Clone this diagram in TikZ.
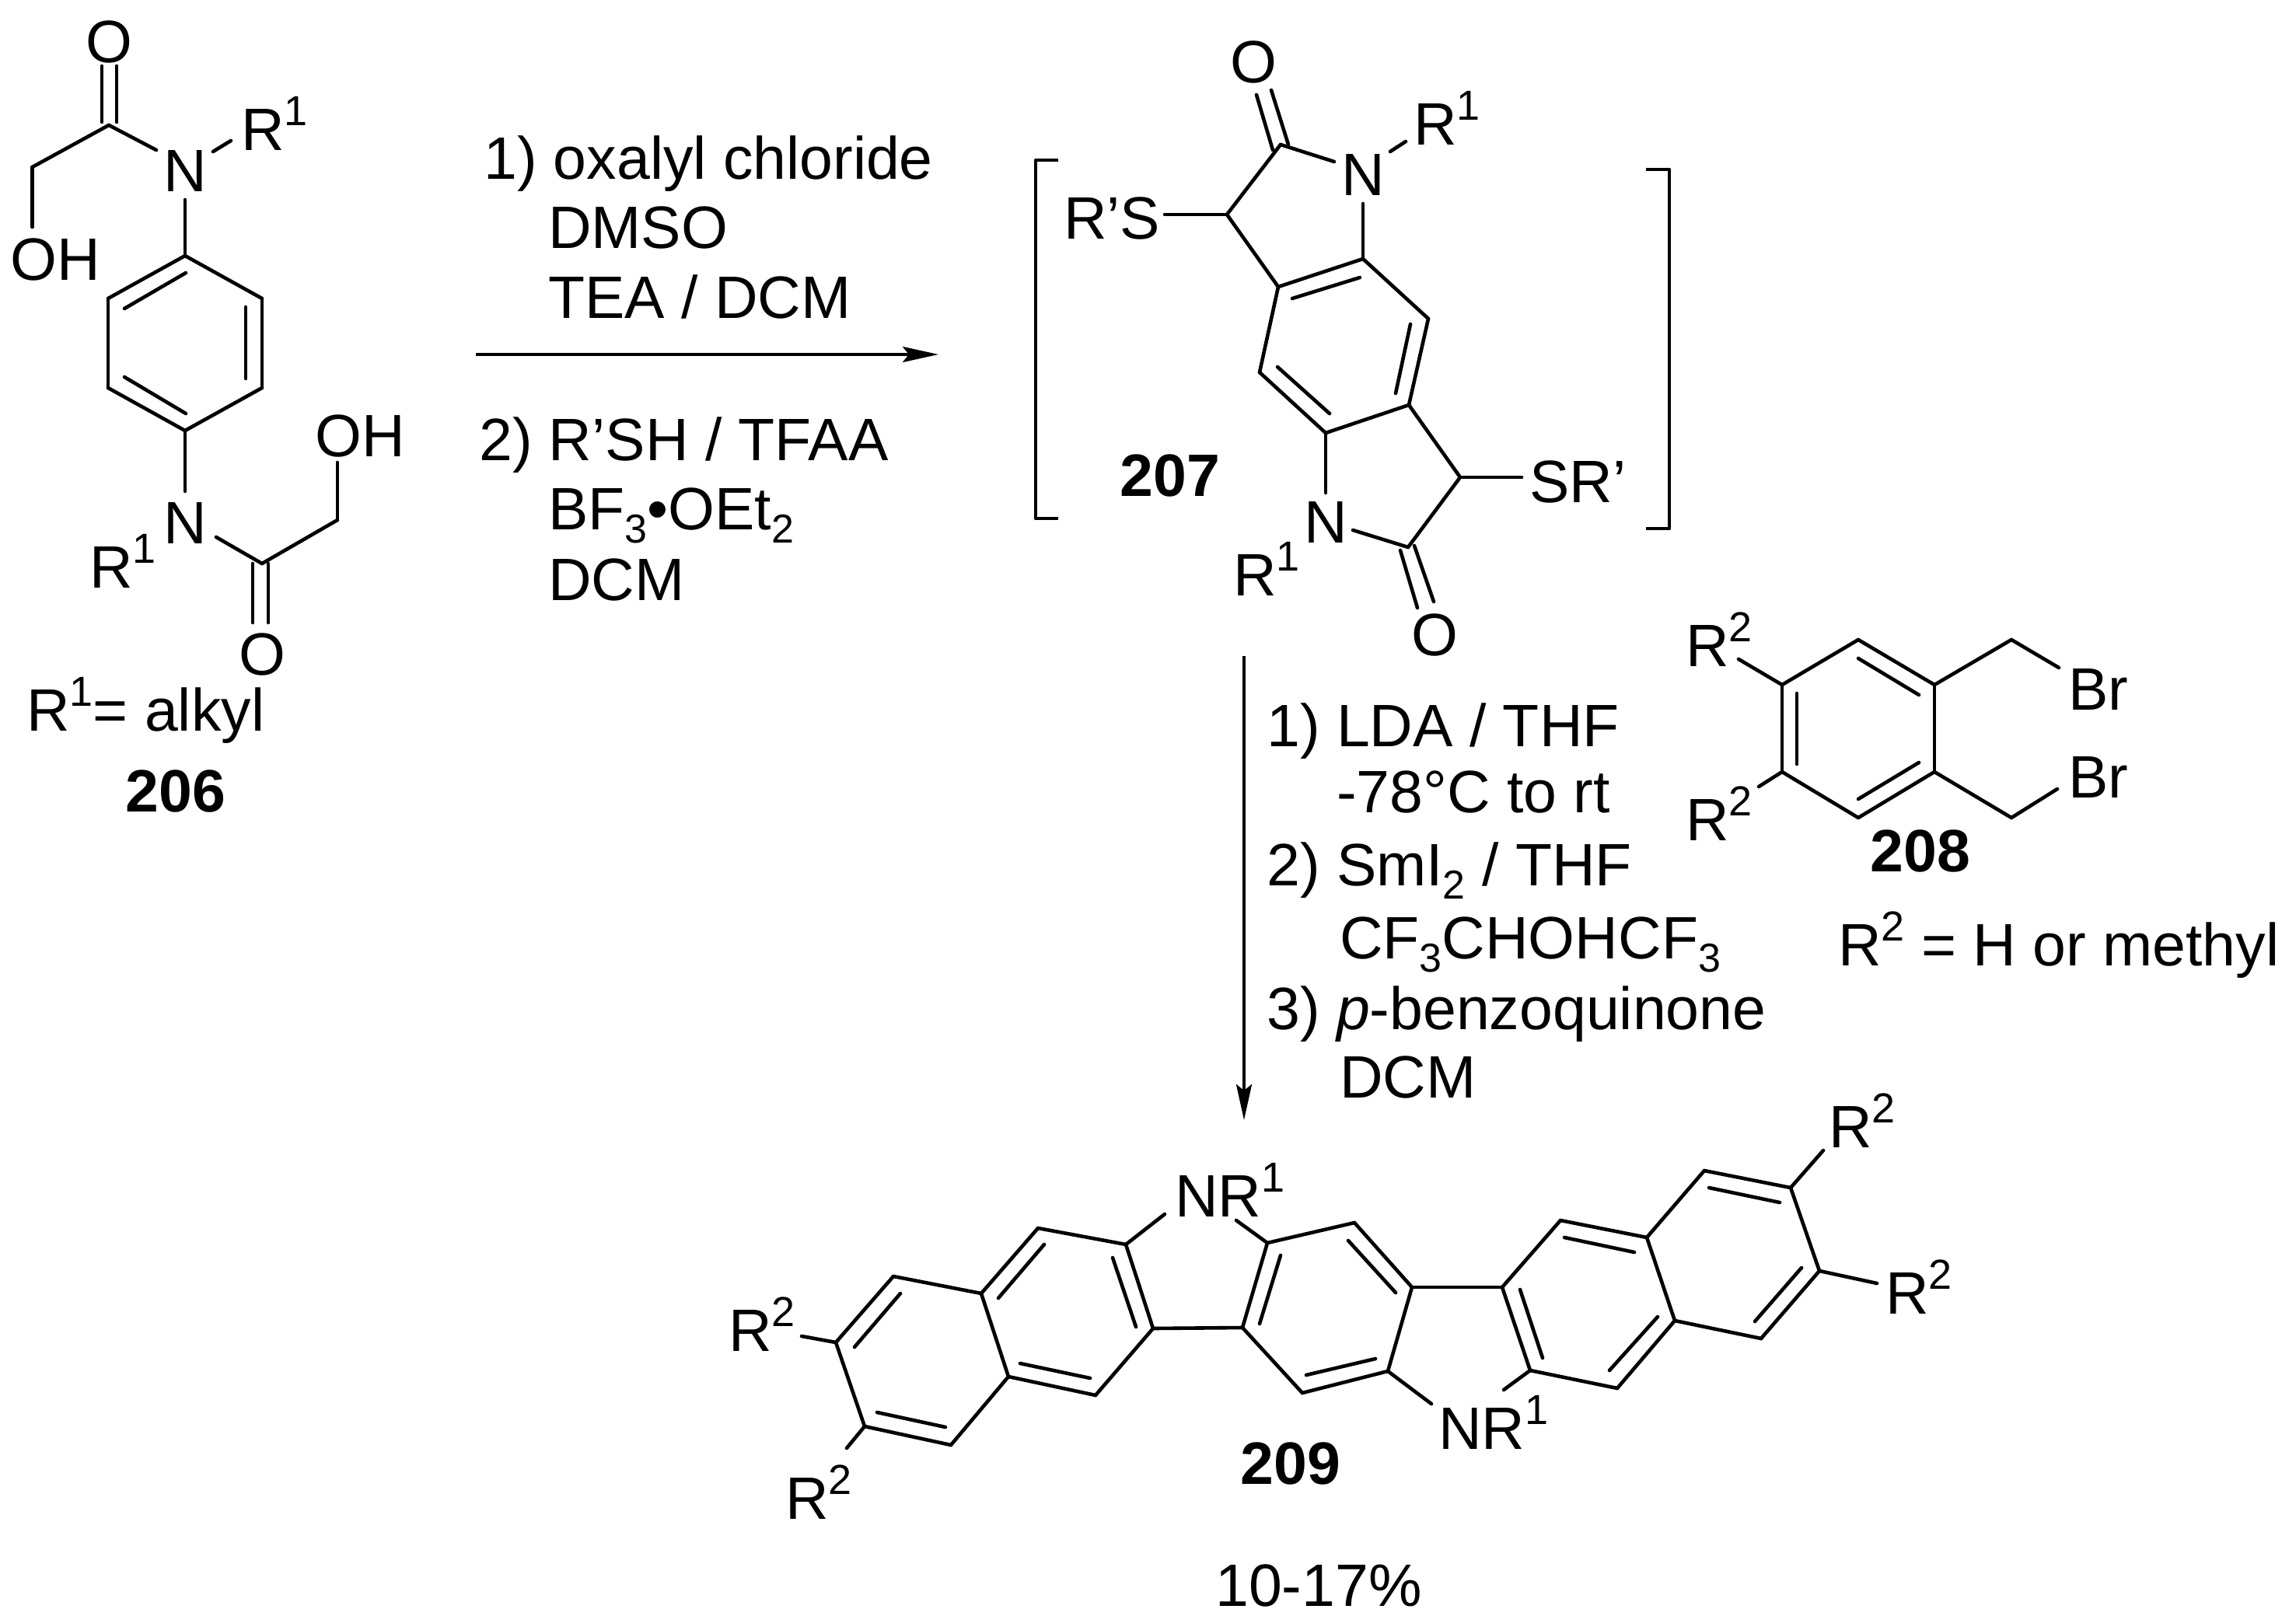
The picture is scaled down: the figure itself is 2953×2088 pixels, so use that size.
\documentclass[tikz,border=0pt]{standalone}
\usepackage{fontspec}
\setmainfont{Liberation Sans}
\usetikzlibrary{arrows.meta}
\newcommand{\supr}[1]{\raisebox{32pt}{\fontsize{54}{54}\selectfont #1}}
\newcommand{\subr}[1]{\raisebox{-17pt}{\fontsize{52}{52}\selectfont #1}}
\tikzset{
    bond/.style={line width=4.6pt, line cap=round, line join=round},
    txt/.style={anchor=base west, inner sep=0pt, font=\fontsize{77}{90}\selectfont},
    atom/.style={inner sep=0pt, font=\fontsize{77}{90}\selectfont},
    num/.style={anchor=base, inner sep=0pt, font=\fontsize{77}{90}\selectfont\bfseries},
    rxn/.style={line width=4pt, -{Stealth[length=46pt,width=20pt,inset=8pt]}}
}
\begin{document}
\begin{tikzpicture}[x=1pt, y=-1pt, line join=round]
    \useasboundingbox (0,0) rectangle (2953,2088);
    \foreach \n/\x/\y in {a1/140/161,a2/41.5/215,a3/41.5/292,a4/201/193,a5/274/195,a6/297/181,a7/238/257,a8/238/329,a9/337/384,a10/337/499,a11/238/554,a12/139/499,a13/139/384,a14/238/632,a15/278/691,a16/337/725,a17/434/669,a18/434/595,
        a20/131/85,a21/131/157,a22/150/85,a23/150/157,a24/160/397,a25/239/351,a26/316/395,a27/316/487,a28/160/485,a29/239/532,a30/325/725,a31/325/801,a32/345/725,a33/345/801}
        \coordinate (\n) at (\x,\y);
    \foreach \n/\x/\y in {b1/1647/186,b2/1578/276,b3/1498/276,b4/1644/369,b5/1753/333,b6/1716/208,b7/1753/262,b8/1788/195,b9/1808/182,b10/1837/410,b11/1812/521,b12/1620/479,b13/1705/557,b14/1878/614,b15/1957/614,b16/1811/704,b17/1705/634,b18/1740/682,
        b20/1616/122,b21/1637/193,b22/1635/116,b23/1657/186,b24/1662/384,b25/1749/357,b26/1814/417,b27/1795/506,b28/1643/472,b29/1710/532,b30/1801/708,b31/1823/782,b32/1819/702,b33/1844/774}
        \coordinate (\n) at (\x,\y);
    \foreach \n/\x/\y in {k1/1361/206,k2/1332/206,k3/1332/667,k4/1361/667,k5/2117/218,k6/2147/218,k7/2147/680,k8/2117/680}
        \coordinate (\n) at (\x,\y);
    \foreach \n/\x/\y in {c1/2292/881,c2/2390/823,c3/2488/881,c4/2488/993,c5/2390/1052,c6/2292/993,c7/2587/823,c8/2648/859,c9/2587/1052,c10/2646/1015,c11/2236/848,c12/2262/1012,
        c20/2390/847,c21/2468/894,c22/2311/892,c23/2311/983,c24/2468/981,c25/2390/1028}
        \coordinate (\n) at (\x,\y);
    \foreach \n/\x/\y in {d1/1335/1580,d2/1448/1601,d3/1483/1709,d4/1409/1795,d5/1297/1771,d6/1262/1664,d7/1149/1642,d8/1075/1727,d9/1112/1835,d10/1223/1859,d11/1498/1562,d12/1031/1719,d13/1089/1863,
        d14/1598/1708,d15/1630/1599,d16/1742/1573,d17/1816/1656,d18/1785/1764,d19/1675/1792,d20/1590/1570,d21/1841/1806,
        d22/1932/1656,d23/1968/1763,d24/2080/1786,d25/2154/1699,d26/2118/1592,d27/2007/1570,d28/2192/1506,d29/2303/1528,d30/2340/1635,d31/2265/1722,d32/2345/1480,d33/2414/1651,d34/1934/1788}
        \coordinate (\n) at (\x,\y);
    \foreach \n/\x/\y in {e1/1343/1601,e2/1284/1670,e3/1431/1618,e4/1461/1707,e5/1402/1773,e6/1312/1754,e7/1158/1664,e8/1099/1733,e9/1128/1817,e10/1216/1836,e11/1647/1615,e12/1620/1703,e13/1734/1596,e14/1795/1663,e15/1769/1748,e16/1680/1769,
        e17/1955/1659,e18/1984/1747,e19/2070/1763,e20/2132/1694,e21/2012/1592,e22/2102/1611,e23/2198/1528,e24/2289/1547,e25/2257/1700,e26/2317/1631}
        \coordinate (\n) at (\x,\y);
    \foreach \p/\q in {a1/a2,a2/a3,a1/a4,a5/a6,a7/a8,a8/a9,a9/a10,a10/a11,a11/a12,a12/a13,a13/a8,a11/a14,a15/a16,a16/a17,a17/a18,a20/a21,a22/a23,a24/a25,a26/a27,a28/a29,a30/a31,a32/a33,
        b1/b2,b2/b3,b2/b4,b4/b5,b1/b6,b7/b5,b8/b9,b5/b10,b10/b11,b11/b13,b13/b12,b12/b4,b11/b14,b14/b15,b14/b16,b13/b17,b18/b16,b20/b21,b22/b23,b24/b25,b26/b27,b28/b29,b30/b31,b32/b33,
        c1/c2,c2/c3,c3/c4,c4/c5,c5/c6,c6/c1,c3/c7,c7/c8,c4/c9,c9/c10,c1/c11,c6/c12,c20/c21,c22/c23,c24/c25,
        d6/d1,d1/d2,d2/d3,d3/d4,d4/d5,d5/d6,d6/d7,d7/d8,d8/d9,d9/d10,d10/d5,d2/d11,d8/d12,d9/d13,d3/d14,d14/d15,d15/d16,d16/d17,d17/d18,d18/d19,d19/d14,d15/d20,d18/d21,d17/d22,
        d22/d23,d23/d24,d24/d25,d25/d26,d26/d27,d27/d22,d26/d28,d28/d29,d29/d30,d30/d31,d31/d25,d29/d32,d30/d33,d23/d34,
        e1/e2,e3/e4,e5/e6,e7/e8,e9/e10,e11/e12,e13/e14,e15/e16,e17/e18,e19/e20,e21/e22,e23/e24,e25/e26}
        \draw[bond](\p)--(\q);
    \draw[bond, line cap=butt](k1)--(k2)--(k3)--(k4);
    \draw[bond, line cap=butt](k5)--(k6)--(k7)--(k8);
    \coordinate (f1) at (612,456);
    \coordinate (f2) at (1207,456);
    \coordinate (f3) at (1600,844);
    \coordinate (f4) at (1600,1441);
    \draw[rxn](f1)--(f2);
    \draw[rxn](f3)--(f4);
    \node[atom] (o1) at (140,54) {O};
    \node[atom] (n1) at (238,220) {N};
    \node[txt] (r1) at (310,193) {R\supr{1}};
    \node[txt] (oh1) at (13,360) {OH};
    \node[atom] (n2) at (238,673) {N};
    \node[txt] (r2) at (115,756) {R\supr{1}};
    \node[txt] (oh2) at (405,587) {OH};
    \node[atom] (o2) at (337,842) {O};
    \node[txt] (alkyl) at (34,940) {R\supr{1}= alkyl};
    \node[num] (m206) at (226,1044) {206};
    \node[atom] (o3) at (1612,80) {O};
    \node[atom] (n3) at (1753,225) {N};
    \node[txt] (r3) at (1818,186) {R\supr{1}};
    \node[txt] (rs1) at (1368,307) {R'S};
    \node[txt] (rs2) at (1967,646) {SR'};
    \node[atom] (n4) at (1705,672) {N};
    \node[txt] (r4) at (1586,766) {R\supr{1}};
    \node[atom] (o4) at (1845,817) {O};
    \node[num] (m207) at (1505,638) {207};
    \node[txt] (r5) at (2168,857) {R\supr{2}};
    \node[txt] (r6) at (2168,1081) {R\supr{2}};
    \node[txt] (br1) at (2660,913) {Br};
    \node[txt] (br2) at (2660,1026) {Br};
    \node[num] (m208) at (2470,1121) {208};
    \node[txt] (rdef) at (2364,1242) {R\supr{2} = H or methyl};
    \node[txt] (nr1) at (1511,1565) {NR\supr{1}};
    \node[txt] (nr2) at (1850,1864) {NR\supr{1}};
    \node[txt] (r7) at (937,1738) {R\supr{2}};
    \node[txt] (r8) at (1010,1954) {R\supr{2}};
    \node[txt] (r9) at (2352,1476) {R\supr{2}};
    \node[txt] (r10) at (2425,1690) {R\supr{2}};
    \node[num] (m209) at (1660,1909) {209};
    \node[txt] (yield) at (1563,2066) {10-17\%};
    \foreach \n/\x/\y/\t in {s1/622/230/{1) oxalyl chloride},s2/705/319/{DMSO},s3/705/409/{TEA / DCM},s4/616/592/{2) R'SH / TFAA},s5/705/681/{BF\subr{3}•OEt\subr{2}},s6/705/772/{DCM},
        t1/1629/960/{1) LDA / THF},t2/1719/1045/{-78°C to rt},t3/1629/1139/{2) SmI\subr{2} / THF},t4/1723/1233/{CF\subr{3}CHOHCF\subr{3}},t5/1629/1324/{3) \textit{p}-benzoquinone},t6/1723/1412/{DCM}}
        \node[txt] (\n) at (\x,\y) {\t};
\end{tikzpicture}
\end{document}
